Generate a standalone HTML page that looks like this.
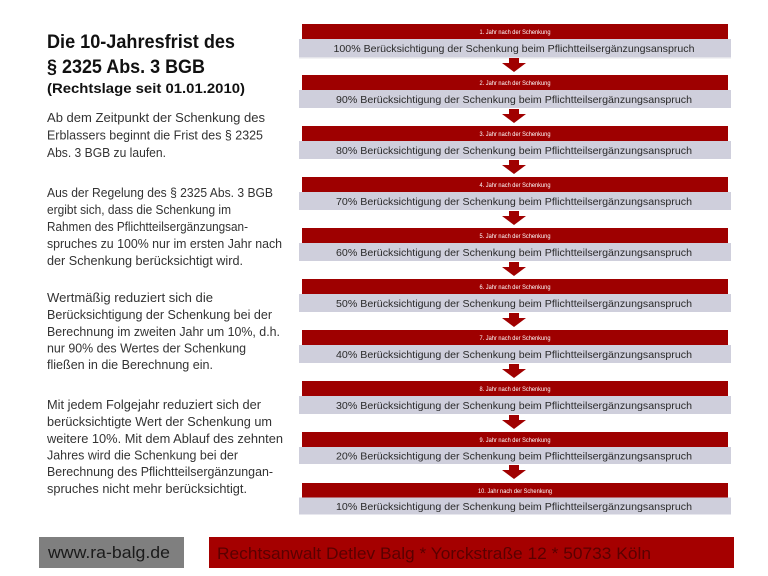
<!DOCTYPE html>
<html><head><meta charset="utf-8"><style>
html,body{margin:0;padding:0;background:#fff;}
svg{display:block;}
text{font-family:"Liberation Sans",sans-serif;}
</style></head><body>
<svg width="768" height="576" viewBox="0 0 768 576" xmlns="http://www.w3.org/2000/svg">
<rect width="768" height="576" fill="#fff"/>
<!-- Title -->
<text x="47" y="48" font-size="19" font-weight="bold" fill="#111" textLength="188" lengthAdjust="spacingAndGlyphs">Die 10-Jahresfrist des</text>
<text x="47" y="73" font-size="19" font-weight="bold" fill="#111" textLength="158" lengthAdjust="spacingAndGlyphs">§ 2325 Abs. 3 BGB</text>
<text x="47" y="93" font-size="14" font-weight="bold" fill="#111" textLength="198" lengthAdjust="spacingAndGlyphs">(Rechtslage seit 01.01.2010)</text>
<g font-size="12.5" fill="#333">
<text x="47" y="122" textLength="218" lengthAdjust="spacingAndGlyphs">Ab dem Zeitpunkt der Schenkung des</text>
<text x="47" y="139.5" textLength="216" lengthAdjust="spacingAndGlyphs">Erblassers beginnt die Frist des § 2325</text>
<text x="47" y="157" textLength="119" lengthAdjust="spacingAndGlyphs">Abs. 3 BGB zu laufen.</text>
<text x="47" y="197" textLength="226" lengthAdjust="spacingAndGlyphs">Aus der Regelung des § 2325 Abs. 3 BGB</text>
<text x="47" y="214" textLength="184" lengthAdjust="spacingAndGlyphs">ergibt sich, dass die Schenkung im</text>
<text x="47" y="231" textLength="201" lengthAdjust="spacingAndGlyphs">Rahmen des Pflichtteilsergänzungsan-</text>
<text x="47" y="248" textLength="235" lengthAdjust="spacingAndGlyphs">spruches zu 100% nur im ersten Jahr nach</text>
<text x="47" y="265" textLength="196" lengthAdjust="spacingAndGlyphs">der Schenkung berücksichtigt wird.</text>
<text x="47" y="302" textLength="166" lengthAdjust="spacingAndGlyphs">Wertmäßig reduziert sich die</text>
<text x="47" y="319" textLength="225" lengthAdjust="spacingAndGlyphs">Berücksichtigung der Schenkung bei der</text>
<text x="47" y="336" textLength="233" lengthAdjust="spacingAndGlyphs">Berechnung  im zweiten Jahr um 10%, d.h.</text>
<text x="47" y="352.5" textLength="199" lengthAdjust="spacingAndGlyphs">nur 90% des Wertes der Schenkung</text>
<text x="47" y="369" textLength="166" lengthAdjust="spacingAndGlyphs">fließen in die Berechnung  ein.</text>
<text x="47" y="409" textLength="214" lengthAdjust="spacingAndGlyphs">Mit jedem Folgejahr reduziert sich der</text>
<text x="47" y="426" textLength="225" lengthAdjust="spacingAndGlyphs">berücksichtigte Wert der Schenkung um</text>
<text x="47" y="443" textLength="236" lengthAdjust="spacingAndGlyphs">weitere 10%. Mit dem Ablauf des zehnten</text>
<text x="47" y="459.5" textLength="191" lengthAdjust="spacingAndGlyphs">Jahres wird die Schenkung bei der</text>
<text x="47" y="476" textLength="226" lengthAdjust="spacingAndGlyphs">Berechnung  des Pflichtteilsergänzungan-</text>
<text x="47" y="493" textLength="200" lengthAdjust="spacingAndGlyphs">spruches nicht mehr berücksichtigt.</text>
</g>

<!-- Rows -->
<g id="rows">
<!-- row template: red top T -->
</g>
<g>
<!-- 1 -->
<rect x="299" y="40" width="432" height="18.5" fill="#e4e4ea"/>
<rect x="302" y="24" width="426" height="15" fill="#9e0000"/>
<rect x="299" y="39" width="432" height="18" fill="#cfcfdc"/>
<text x="515" y="34" font-size="6" fill="#fff" text-anchor="middle" textLength="71" lengthAdjust="spacingAndGlyphs">1. Jahr nach der Schenkung</text>
<text x="514" y="52" font-size="10.5" fill="#2a2a2a" text-anchor="middle" textLength="361" lengthAdjust="spacingAndGlyphs">100%  Berücksichtigung der Schenkung beim Pflichtteilsergänzungsanspruch</text>
<polygon points="509,58 519,58 519,63 526,63 514,72 502,63 509,63" fill="#a00000"/>
<!-- 2 -->
<rect x="302" y="75" width="426" height="15" fill="#9e0000"/>
<rect x="299" y="90" width="432" height="18" fill="#cfcfdc"/>
<text x="515" y="85" font-size="6" fill="#fff" text-anchor="middle" textLength="71" lengthAdjust="spacingAndGlyphs">2. Jahr nach der Schenkung</text>
<text x="514" y="103" font-size="10.5" fill="#2a2a2a" text-anchor="middle" textLength="356" lengthAdjust="spacingAndGlyphs">90%  Berücksichtigung der Schenkung beim Pflichtteilsergänzungsanspruch</text>
<polygon points="509,109 519,109 519,114 526,114 514,123 502,114 509,114" fill="#a00000"/>
<!-- 3 -->
<rect x="302" y="126" width="426" height="15" fill="#9e0000"/>
<rect x="299" y="141" width="432" height="18" fill="#cfcfdc"/>
<text x="515" y="136" font-size="6" fill="#fff" text-anchor="middle" textLength="71" lengthAdjust="spacingAndGlyphs">3. Jahr nach der Schenkung</text>
<text x="514" y="154" font-size="10.5" fill="#2a2a2a" text-anchor="middle" textLength="356" lengthAdjust="spacingAndGlyphs">80%  Berücksichtigung der Schenkung beim Pflichtteilsergänzungsanspruch</text>
<polygon points="509,160 519,160 519,165 526,165 514,174 502,165 509,165" fill="#a00000"/>
<!-- 4 -->
<rect x="302" y="177" width="426" height="15" fill="#9e0000"/>
<rect x="299" y="192" width="432" height="18" fill="#cfcfdc"/>
<text x="515" y="187" font-size="6" fill="#fff" text-anchor="middle" textLength="71" lengthAdjust="spacingAndGlyphs">4. Jahr nach der Schenkung</text>
<text x="514" y="205" font-size="10.5" fill="#2a2a2a" text-anchor="middle" textLength="356" lengthAdjust="spacingAndGlyphs">70%  Berücksichtigung der Schenkung beim Pflichtteilsergänzungsanspruch</text>
<polygon points="509,211 519,211 519,216 526,216 514,225 502,216 509,216" fill="#a00000"/>
<!-- 5 -->
<rect x="302" y="228" width="426" height="15" fill="#9e0000"/>
<rect x="299" y="243" width="432" height="18" fill="#cfcfdc"/>
<text x="515" y="238" font-size="6" fill="#fff" text-anchor="middle" textLength="71" lengthAdjust="spacingAndGlyphs">5. Jahr nach der Schenkung</text>
<text x="514" y="256" font-size="10.5" fill="#2a2a2a" text-anchor="middle" textLength="356" lengthAdjust="spacingAndGlyphs">60%  Berücksichtigung der Schenkung beim Pflichtteilsergänzungsanspruch</text>
<polygon points="509,262 519,262 519,267 526,267 514,276 502,267 509,267" fill="#a00000"/>
<!-- 6 -->
<rect x="302" y="279" width="426" height="15" fill="#9e0000"/>
<rect x="299" y="294" width="432" height="18" fill="#cfcfdc"/>
<text x="515" y="289" font-size="6" fill="#fff" text-anchor="middle" textLength="71" lengthAdjust="spacingAndGlyphs">6. Jahr nach der Schenkung</text>
<text x="514" y="307" font-size="10.5" fill="#2a2a2a" text-anchor="middle" textLength="356" lengthAdjust="spacingAndGlyphs">50%  Berücksichtigung der Schenkung beim Pflichtteilsergänzungsanspruch</text>
<polygon points="509,313 519,313 519,318 526,318 514,327 502,318 509,318" fill="#a00000"/>
<!-- 7 -->
<rect x="302" y="330" width="426" height="15" fill="#9e0000"/>
<rect x="299" y="345" width="432" height="18" fill="#cfcfdc"/>
<text x="515" y="340" font-size="6" fill="#fff" text-anchor="middle" textLength="71" lengthAdjust="spacingAndGlyphs">7. Jahr nach der Schenkung</text>
<text x="514" y="358" font-size="10.5" fill="#2a2a2a" text-anchor="middle" textLength="356" lengthAdjust="spacingAndGlyphs">40%  Berücksichtigung der Schenkung beim Pflichtteilsergänzungsanspruch</text>
<polygon points="509,364 519,364 519,369 526,369 514,378 502,369 509,369" fill="#a00000"/>
<!-- 8 -->
<rect x="302" y="381" width="426" height="15" fill="#9e0000"/>
<rect x="299" y="396" width="432" height="18" fill="#cfcfdc"/>
<text x="515" y="391" font-size="6" fill="#fff" text-anchor="middle" textLength="71" lengthAdjust="spacingAndGlyphs">8. Jahr nach der Schenkung</text>
<text x="514" y="409" font-size="10.5" fill="#2a2a2a" text-anchor="middle" textLength="356" lengthAdjust="spacingAndGlyphs">30%  Berücksichtigung der Schenkung beim Pflichtteilsergänzungsanspruch</text>
<polygon points="509,415 519,415 519,420 526,420 514,429 502,420 509,420" fill="#a00000"/>
<!-- 9 -->
<rect x="302" y="432" width="426" height="15" fill="#9e0000"/>
<rect x="299" y="447" width="432" height="17" fill="#cfcfdc"/>
<text x="515" y="442" font-size="6" fill="#fff" text-anchor="middle" textLength="71" lengthAdjust="spacingAndGlyphs">9. Jahr nach der Schenkung</text>
<text x="514" y="459.5" font-size="10.5" fill="#2a2a2a" text-anchor="middle" textLength="356" lengthAdjust="spacingAndGlyphs">20%  Berücksichtigung der Schenkung beim Pflichtteilsergänzungsanspruch</text>
<polygon points="509,465 519,465 519,470 526,470 514,479 502,470 509,470" fill="#a00000"/>
<!-- 10 -->
<rect x="302" y="483" width="426" height="14.5" fill="#9e0000"/>
<rect x="299" y="497.5" width="432" height="17" fill="#cfcfdc"/>
<text x="515" y="493" font-size="6" fill="#fff" text-anchor="middle" textLength="74" lengthAdjust="spacingAndGlyphs">10. Jahr nach der Schenkung</text>
<text x="514" y="510" font-size="10.5" fill="#2a2a2a" text-anchor="middle" textLength="356" lengthAdjust="spacingAndGlyphs">10%  Berücksichtigung der Schenkung beim Pflichtteilsergänzungsanspruch</text>
</g>

<!-- Footer -->
<rect x="39" y="537" width="145" height="31" fill="#7f7f7f"/>
<text x="48" y="558" font-size="17" fill="#1a1a1a" textLength="122" lengthAdjust="spacingAndGlyphs">www.ra-balg.de</text>
<rect x="209" y="537" width="525" height="31" fill="#a50000"/>
<text x="217" y="559" font-size="17" fill="#5a0000" textLength="434" lengthAdjust="spacingAndGlyphs">Rechtsanwalt Detlev Balg * Yorckstraße 12 * 50733 Köln</text>
</svg>
</body></html>
